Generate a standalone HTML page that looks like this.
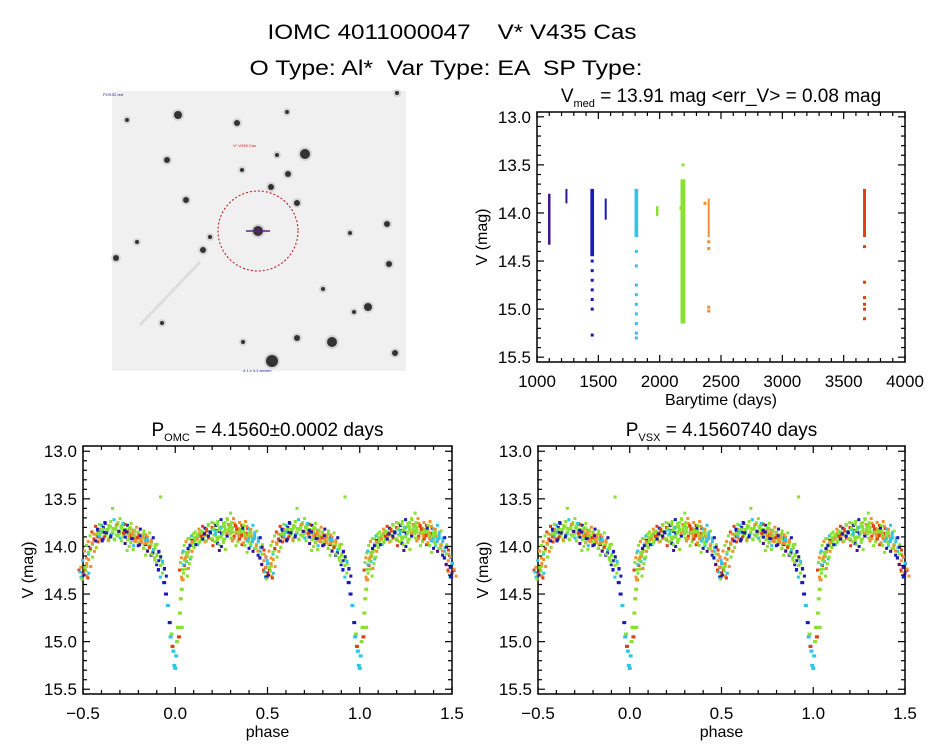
<!DOCTYPE html>
<html><head><meta charset="utf-8"><style>
body{margin:0;background:#fff;}
svg{display:block;font-family:"Liberation Sans",sans-serif;}
text{white-space:pre;}
</style></head><body>
<svg id="c" width="944" height="747" viewBox="0 0 944 747" xml:space="preserve">
<text x="452" y="39" font-size="21" text-anchor="middle" textLength="369" lengthAdjust="spacingAndGlyphs">IOMC 4011000047    V* V435 Cas</text>
<text x="446" y="75" font-size="21" text-anchor="middle" textLength="393" lengthAdjust="spacingAndGlyphs">O Type: Al*  Var Type: EA  SP Type:</text>
<g id="img"></g>
<g id="ts"></g>
<g id="p1"></g>
<g id="p2"></g>
</svg>
<script>
const NS="http://www.w3.org/2000/svg";
function mk(tag,attrs,parent){const e=document.createElementNS(NS,tag);for(const k in attrs)e.setAttribute(k,attrs[k]);parent.appendChild(e);return e;}
const colors=["#40108a","#1a1ab8","#30c4e8","#88e030","#f09030","#e04010"];

// ---- time series data ----
const seasonTimes=[1100,1240,1450,1560,1810,1980,2190,2170,2400,3670];
const seasonColor=[0,0,1,1,2,3,3,3,4,5];
const seasonMin=[13.8,13.75,13.75,13.85,13.75,13.93,13.65,13.93,13.85,13.75];
const seasonMax=[14.33,13.9,14.45,14.07,14.25,14.03,15.15,13.97,14.25,14.25];
const seasonWidth=[20,6,30,4,30,20,40,10,12,24];
const outT=[1450,1450,1450,1450,1450,1450,1450,1810,1810,1810,1810,1810,1810,1810,1810,1810,2190,2400,2400,2400,2400,2370,3670,3670,3670,3670,3670,3670];
const outMag=[14.5,14.6,14.7,14.8,14.9,15.0,15.27,14.4,14.55,14.75,14.85,14.95,15.05,15.15,15.25,15.3,13.5,14.3,14.37,14.98,15.02,13.9,14.35,14.72,14.88,14.95,15.0,15.1];
const outColor=[1,1,1,1,1,1,1,2,2,2,2,2,2,2,2,2,3,4,4,4,4,4,5,5,5,5,5,5];
const tsXTicks=[1000,1500,2000,2500,3000,3500,4000];
const magTicks=[13.0,13.5,14.0,14.5,15.0,15.5];
const magTickLabels=["13.0","13.5","14.0","14.5","15.0","15.5"];
const phaseTicks=[-0.5,0,0.5,1.0,1.5];
const phaseTickLabels=["\u22120.5","0.0","0.5","1.0","1.5"];

// ---- folded phase data (one cycle) ----
const ph=[0.10,0.11,0.12,0.13,0.14,0.15,0.16,0.17,0.18,0.19,0.20,0.21,0.22,0.23,0.24,0.25,0.26,0.27,0.28,0.29,0.30,0.31,0.32,0.33,0.34,0.35,0.36,0.37,0.38,0.39,0.40,0.41,0.42,0.43,0.44,0.45,0.46,0.47,0.48,0.49,0.50,0.51,0.52,0.53,0.54,0.55,0.56,0.57,0.58,0.59,0.60,0.61,0.62,0.63,0.64,0.65,0.66,0.67,0.68,0.69,0.70,0.71,0.72,0.73,0.74,0.75,0.76,0.77,0.78,0.79,0.80,0.81,0.82,0.83,0.84,0.85,0.86,0.87,0.88,0.89,0.90,0.91,0.92,0.93,0.94,0.95,0.96,0.97,0.98,0.99,0.995,0.0,0.005,0.01,0.015,0.02,0.025,0.03,0.035,0.04,0.045,0.05,0.055,0.06,0.065,0.07,0.08,0.09,0.92,0.25,0.40,0.75,0.85,0.215,0.305,0.355,0.615,0.705,0.785,0.495,0.505,0.975,0.985,0.035];
const pm=[13.95,13.92,13.90,13.88,13.92,13.85,13.88,13.82,13.90,13.85,13.80,13.88,13.78,13.84,13.90,13.80,13.86,13.75,13.88,13.82,13.65,13.80,13.90,13.85,13.95,13.82,13.88,13.78,13.92,13.86,13.90,13.82,13.95,13.88,13.98,13.95,14.05,14.08,14.15,14.22,14.28,14.25,14.18,14.08,14.02,13.98,13.92,13.88,13.90,13.82,13.85,13.80,13.88,13.85,13.78,13.90,13.60,13.82,13.88,13.75,13.85,13.80,13.90,13.82,13.86,13.80,13.88,13.92,13.84,13.90,13.86,13.95,13.88,13.92,13.98,13.90,14.00,13.95,14.05,14.02,14.10,14.15,14.20,14.28,14.38,14.50,14.62,14.80,14.92,15.10,15.25,15.28,15.15,15.00,14.85,14.95,14.70,14.55,14.45,14.35,14.28,14.20,14.15,14.10,14.08,14.02,13.98,13.95,13.48,14.00,14.02,14.00,14.05,13.95,13.75,13.85,13.90,13.80,13.95,14.32,14.30,14.95,15.05,14.85];
const pc=[3,3,2,3,3,3,4,3,5,1,5,3,1,3,3,2,3,3,1,3,3,3,4,3,3,4,5,3,4,5,3,4,4,2,3,2,2,3,4,1,0,5,4,2,4,3,4,3,5,4,5,1,3,2,3,1,3,3,3,3,2,3,3,3,3,3,5,1,4,3,4,3,4,3,1,4,3,4,2,3,3,1,3,3,1,1,2,1,3,2,2,2,2,3,3,5,3,3,3,4,3,5,3,4,3,2,3,4,3,1,1,3,0,3,3,3,5,3,4,1,0,2,5,3];

function axes(g,box,xr,yr,xt,xtl,ymt,ymtl,xminor,title,sub,rest,xlabel){
  const X=v=>box.x0+(v-xr[0])/(xr[1]-xr[0])*(box.x1-box.x0);
  const Y=v=>box.y0+(v-yr[0])/(yr[1]-yr[0])*(box.y1-box.y0);
  mk('rect',{x:box.x0,y:box.y0,width:box.x1-box.x0,height:box.y1-box.y0,fill:'none',stroke:'#000','stroke-width':1.5},g);
  for(let v=xr[0];v<=xr[1]+1e-9;v+=xminor){const x=X(v);const maj=xt.some(t=>Math.abs(t-v)<1e-6);const L=maj?7:4;
    mk('line',{x1:x,x2:x,y1:box.y1,y2:box.y1-L,stroke:'#000','stroke-width':1.2},g);mk('line',{x1:x,x2:x,y1:box.y0,y2:box.y0+L,stroke:'#000','stroke-width':1.2},g);}
  for(let v=13.0;v<=15.5+1e-9;v+=0.1){const y=Y(v);const maj=Math.abs(v*2-Math.round(v*2))<1e-6;const L=maj?7:4;
    mk('line',{x1:box.x0,x2:box.x0+L,y1:y,y2:y,stroke:'#000','stroke-width':1.2},g);mk('line',{x1:box.x1,x2:box.x1-L,y1:y,y2:y,stroke:'#000','stroke-width':1.2},g);}
  xt.forEach((t,i)=>{const e=mk('text',{x:X(t),y:box.y1+25,'font-size':17,'text-anchor':'middle'},g);e.textContent=xtl[i];
    });
  ymt.forEach((t,i)=>{const e=mk('text',{x:box.x0-6,y:Y(t)+6,'font-size':17,'text-anchor':'end'},g);e.textContent=ymtl[i];
    });
  const xl=mk('text',{x:(box.x0+box.x1)/2,y:box.y1+43,'font-size':16,'text-anchor':'middle'},g);xl.textContent=xlabel;
  
  const yl=mk('text',{x:0,y:0,'font-size':16,'text-anchor':'middle',transform:`translate(${box.x0-50},${(box.y0+box.y1)/2}) rotate(-90)`},g);yl.textContent='V (mag)';
  
  const tt=mk('text',{x:(box.x0+box.x1)/2,y:box.y0-10,'font-size':19,'text-anchor':'middle'},g);
  
  const a=mk('tspan',{},tt);a.textContent=title;const b=mk('tspan',{'font-size':11,dy:5},tt);b.textContent=sub;const c=mk('tspan',{dy:-5},tt);c.textContent=rest;
  return {X,Y};
}

// time-series plot
(function(){
  const g=document.getElementById('ts');
  const box={x0:537,x1:905,y0:112,y1:362};
  const yr=[12.95,15.55];
  const {X,Y}=axes(g,box,[1000,4000],yr,tsXTicks,tsXTicks.map(String),magTicks,magTickLabels,100,'V','med',' = 13.91 mag <err_V> = 0.08 mag','Barytime (days)');
  seasonTimes.forEach((t,i)=>{
    const w=X(t+seasonWidth[i]/2)-X(t-seasonWidth[i]/2);
    const r=mk('rect',{x:X(t)-Math.max(w,2)/2,y:Y(seasonMin[i]),width:Math.max(w,2),height:Y(seasonMax[i])-Y(seasonMin[i]),fill:colors[seasonColor[i]]},g);
    
  });
  outT.forEach((t,i)=>{
    const r=mk('rect',{x:X(t)-1.5,y:Y(outMag[i])-1.5,width:3,height:3,fill:colors[outColor[i]]},g);
    
  });
})();

// marker footprint (style only): small cluster drawn around each point
const markDx=[0,-4,4,-2,2];
const markDy=[0,-3,3,4,-4];
function phasePlot(id,box,title,sub,rest){
  const g=document.getElementById(id);
  const yr=[12.945,15.55];
  const {X,Y}=axes(g,box,[-0.5,1.5],yr,phaseTicks,phaseTickLabels,magTicks,magTickLabels,0.1,title,sub,rest,'phase');
  ph.forEach((p,i)=>{
    [p-1,p,p+1].forEach(q=>{
      if(q<-0.5||q>1.5)return;
      const steep=pm[i]>14.3;
      const n=(steep||pm[i]<13.7)?1:markDx.length;
      for(let k=0;k<n;k++){
        const r=mk('rect',{x:X(q)-1.5+markDx[k],y:Y(pm[i])-1.5+markDy[k],width:3,height:3,fill:colors[pc[(i+k)%pc.length]]},g);
        
      }
      if(steep){
        const r=mk('rect',{x:X(q)-2,y:Y(pm[i])-1.5,width:4,height:3,fill:colors[pc[i]]},g);
        
      }
    });
  });
}
phasePlot('p1',{x0:83,x1:452,y0:446,y1:694},'P','OMC',' = 4.1560\u00b10.0002 days');
phasePlot('p2',{x0:538,x1:905,y0:446,y1:694},'P','VSX',' = 4.1560740 days');

// sky image
(function(){
  const g=document.getElementById('img');
  mk('rect',{x:112,y:91,width:294,height:280,fill:'#f0f0f0'},g);
  const sx=[178,397,237,287,305,167,288,271,297,186,258,387,210,203,137,116,389,350,368,354,297,332,272,243,395,242,277,127,323,162];
  const sy=[115,93,123,112,154,160,174,187,203,200,231,224,237,250,242,258,264,233,307,312,338,342,361,342,353,170,155,120,289,323];
  const sr=[4,2,3,2,5,3,3,3,3,3,5,3,2,3,2,3,3,2,4,2,3,5,6,2,3,2,2,2,2,2];
  sx.forEach((x,i)=>{
    mk('circle',{cx:x,cy:sy[i],r:sr[i]+2,fill:'#bbb',opacity:0.5},g);
    const c=mk('circle',{cx:x,cy:sy[i],r:sr[i],fill:'#333'},g);
    
  });
  mk('line',{x1:140,y1:325,x2:200,y2:262,stroke:'#ddd','stroke-width':3},g);
  const ci=mk('circle',{cx:258,cy:231,r:40,fill:'none',stroke:'#b01010','stroke-width':1,'stroke-dasharray':'2,2'},g);
  
  mk('line',{x1:246,y1:231,x2:270,y2:231,stroke:'#602080','stroke-width':1.5},g);
  mk('line',{x1:258,y1:226,x2:258,y2:236,stroke:'#602080','stroke-width':1},g);
  const l1=mk('text',{x:103,y:96,'font-size':4,fill:'#2020a0'},g);l1.textContent='POSS2 red';
  const l2=mk('text',{x:233,y:147,'font-size':4,fill:'#c02020'},g);l2.textContent='V* V435 Cas';
  const l3=mk('text',{x:243,y:372,'font-size':4,fill:'#2020a0'},g);l3.textContent='4.1 x 4.1 arcmin';
})();
</script>
</body></html>
